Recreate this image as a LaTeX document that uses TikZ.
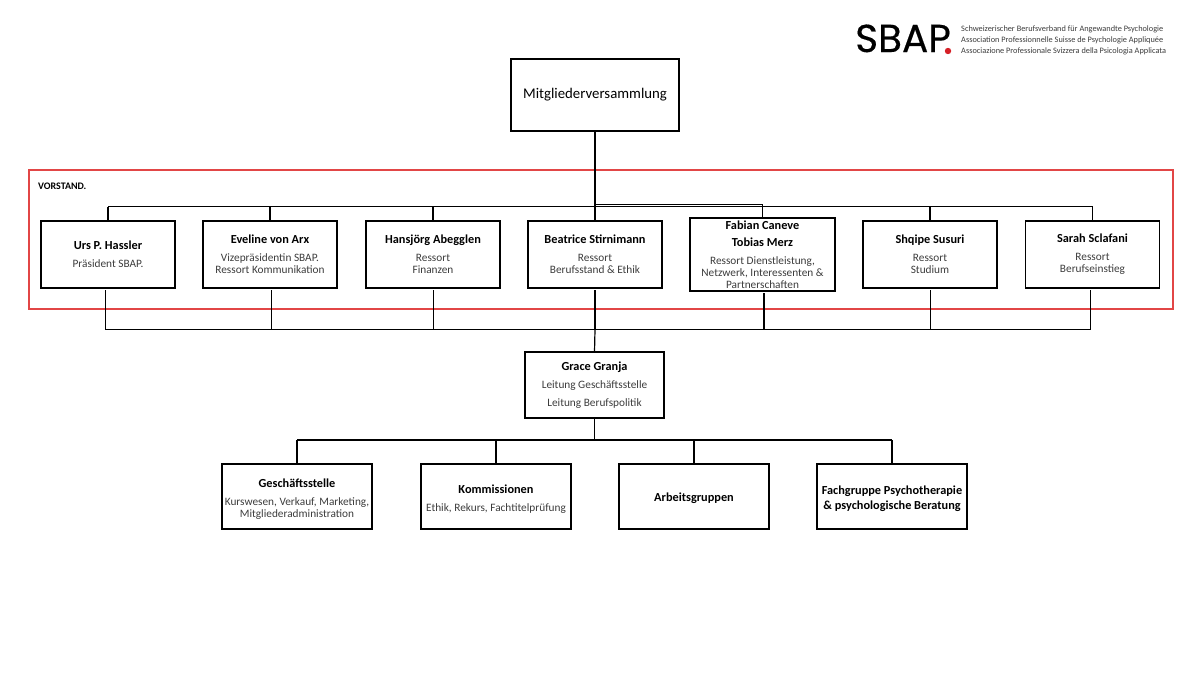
\documentclass[tikz,border=0pt]{standalone}
\usepackage{fontspec}
\setmainfont{Carlito}
\usetikzlibrary{positioning}
\definecolor{frame red}{RGB}{226,70,70}
\definecolor{sub gray}{RGB}{60,60,60}
\definecolor{dot red}{RGB}{214,32,39}
\newcommand{\boxname}[1]{{\bfseries\fontsize{12.3}{12}\selectfont\color{black}\vphantom{g}#1}}
\newcommand{\lowname}[1]{\rule{0pt}{13pt}\boxname{#1}}
\tikzset{
  orgbox/.style = {draw, line width=1.2pt, align=center, inner sep=0pt, outer sep=0pt, text=sub gray,
    font=\fontsize{11.3}{12}\selectfont},
  board/.style = {orgbox, minimum width=134pt, minimum height=67pt},
  lower/.style = {orgbox, minimum width=150pt, minimum height=65pt},
  link/.style = {line width=1.2pt},
  tagline/.style = {anchor=west, inner sep=0pt, text=sub gray, font=\fontsize{8.3}{9}\selectfont}
}
\begin{document}
\begin{tikzpicture}[x=1pt, y=-1pt]
    \useasboundingbox (0,0) rectangle (1200,675);

    % logo
    \node [anchor=base west, inner sep=0pt, font=\fontsize{39}{39}\selectfont] (logo) at (855,52) {\fontspec[FakeBold=0.4]{Poppins}SBAP};
    \fill [dot red] (948,51) circle (3.2) coordinate (logodot);
    \node [tagline] (tagDE) at (961,29.5) {Schweizerischer Berufsverband für Angewandte Psychologie};
    \node [tagline] (tagFR) at (961,40.5) {Association Professionnelle Suisse de Psychologie Appliquée};
    \node [tagline] (tagIT) at (961,51.5) {Associazione Professionale Svizzera della Psicologia Applicata};

    % top
    \node [orgbox, minimum width=168pt, minimum height=72pt, font=\fontsize{14.8}{16}\selectfont, text=black] (mv) at (595,95) {Mitgliederversammlung};

    \node [draw=frame red, line width=1.3pt, minimum width=1144pt, minimum height=139pt, inner sep=0pt] (vorstand) at (601,239.5) {};
    \node [anchor=west, inner sep=0pt, font=\bfseries\fontsize{10}{12}\selectfont] (vorstandlabel) at (38,186) {VORSTAND.};

    % board
    \node [board] (beatrice) at (595,254.5) {\boxname{Beatrice Stirnimann}\\[6pt]Ressort\\Berufsstand \& Ethik};
    \node [board, left=28pt of beatrice] (hansjoerg) {\boxname{Hansjörg Abegglen}\\[6pt]Ressort\\Finanzen};
    \node [board, left=29pt of hansjoerg] (eveline) {\boxname{Eveline von Arx}\\[6pt]Vizepräsidentin SBAP.\\Ressort Kommunikation};
    \node [board, left=28pt of eveline] (urs) {\boxname{Urs P. Hassler}\\[6pt]Präsident SBAP.};
    \node [board, minimum width=145pt, minimum height=73pt, right=28pt of beatrice] (fabian) {\boxname{Fabian Caneve}\\[5pt]\boxname{Tobias Merz}\\[6pt]Ressort Dienstleistung,\\Netzwerk, Interessenten \&\\Partnerschaften};
    \node [board, right=28pt of fabian] (shqipe) {\boxname{Shqipe Susuri}\\[6pt]Ressort\\Studium};
    \node [board, right=28.5pt of shqipe] (sarah) {\boxname{Sarah Sclafani}\\[6pt]Ressort\\Berufseinstieg};

    \node [orgbox, minimum width=139pt, minimum height=66pt] (grace) at (594.5,385) {\boxname{Grace Granja}\\[6pt]Leitung Geschäftsstelle\\[6pt]Leitung Berufspolitik};

    % lower row
    \node [lower] (stelle) at (297,496.5) {\lowname{Geschäftsstelle}\\[6pt]Kurswesen, Verkauf, Marketing,\\Mitgliederadministration};
    \node [lower, right=49pt of stelle] (kommission) {\lowname{Kommissionen}\\[6pt]Ethik, Rekurs, Fachtitelprüfung};
    \node [lower, right=48pt of kommission] (gruppen) {\lowname{Arbeitsgruppen}};
    \node [lower, right=48pt of gruppen] (fachgruppe) {\lowname{Fachgruppe Psychotherapie}\\[3pt]\boxname{\& psychologische Beratung}};

    % connectors
    \coordinate (bustop) at (595,206.5);
    \coordinate (busmid) at (595,329.5);
    \coordinate (buslow) at (594.5,440);
    \coordinate (busfab) at (595,204.5);

    \draw [link, line width=1.8pt] (mv.south) -- (bustop);
    \draw [link] (bustop -| urs.north) -- (bustop -| sarah.north);
    \foreach \who in {urs, eveline, hansjoerg, beatrice, shqipe, sarah}
      \draw [link] (\who.north) -- (\who.north |- bustop);
    \draw [link, line width=1.8pt] (busfab) -| (fabian.north);

    \foreach \who/\off in {urs/-2.5, eveline/1.5, hansjoerg/0.5, beatrice/0, fabian/1.5, shqipe/0.5, sarah/-2}
      \draw [link] ([xshift=\off pt, yshift=-2pt]\who.south) -- ([xshift=\off pt]\who.south |- busmid);
    \draw [link] ([xshift=-2.5pt]urs.south |- busmid) -- ([xshift=-2pt]sarah.south |- busmid);
    \draw [link] (busmid) -- (grace.north);

    \draw [link, line width=1.6pt] (grace.south) -- (buslow);
    \draw [link] (buslow -| stelle.north) -- (buslow -| fachgruppe.north);
    \foreach \who in {stelle, kommission, gruppen, fachgruppe}
      \draw [link] (\who.north) -- (\who.north |- buslow);

\end{tikzpicture}
\end{document}
